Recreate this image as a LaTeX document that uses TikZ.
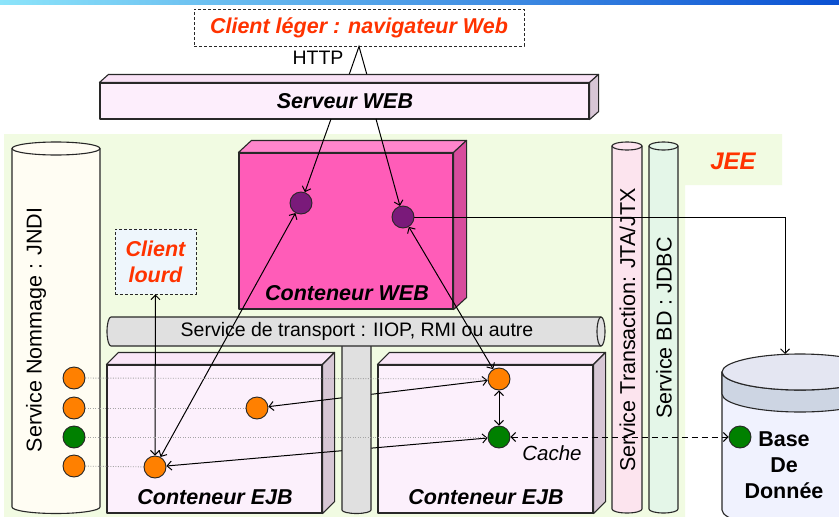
\documentclass[tikz,border=0pt]{standalone}
\usepackage{fontspec}
\setmainfont{Liberation Sans}
\usetikzlibrary{arrows.meta}
\definecolor{jeered}{RGB}{255,51,0}
\definecolor{jeegreen}{RGB}{241,251,226}
\definecolor{barL}{RGB}{140,228,250}
\definecolor{barR}{RGB}{10,80,210}
\definecolor{srvfront}{RGB}{253,238,252}
\definecolor{srvtop}{RGB}{249,226,246}
\definecolor{srvside}{RGB}{216,198,214}
\definecolor{webfront}{RGB}{255,92,184}
\definecolor{webtop}{RGB}{255,133,204}
\definecolor{webside}{RGB}{216,76,156}
\definecolor{ejbfront}{RGB}{252,240,252}
\definecolor{ejbtop}{RGB}{249,230,247}
\definecolor{ejbside}{RGB}{215,199,213}
\definecolor{jndifill}{RGB}{255,253,243}
\definecolor{jtafill}{RGB}{252,228,238}
\definecolor{jdbcfill}{RGB}{228,246,232}
\definecolor{tubefill}{RGB}{224,224,224}
\definecolor{lourdfill}{RGB}{238,246,252}
\definecolor{dbtopc}{RGB}{228,230,242}
\definecolor{dbband}{RGB}{205,213,227}
\definecolor{dbbody}{RGB}{240,242,254}
\definecolor{beanorange}{RGB}{255,128,0}
\definecolor{beangreen}{RGB}{0,128,0}
\definecolor{servletpurple}{RGB}{122,26,122}
\definecolor{dotgray}{RGB}{165,165,165}
\definecolor{edgec}{RGB}{40,40,40}
\pgfdeclarelayer{front}
\pgfsetlayers{main,front}
\begin{document}
\begin{tikzpicture}[x=1pt,y=1pt,yscale=-1,
  >={Straight Barb[length=4.5pt,width=9pt]},
  face/.style={draw=edgec, line width=1.1pt, line join=round},
  frontface/.style={face, rectangle, inner sep=0pt},
  dashbox/.style={draw=edgec, line width=0.9pt, dash pattern=on 3pt off 2pt, rectangle, inner sep=0pt},
  circ/.style={circle, draw=black!85, line width=0.9pt, minimum size=22pt, inner sep=0pt},
  conn/.style={line width=1pt, draw=black},
  oneway/.style={conn, ->},
  twoway/.style={conn, <->},
  dotline/.style={draw=dotgray, line width=0.9pt, dash pattern=on 1pt off 1.5pt},
  dashline/.style={dash pattern=on 6pt off 4pt},
  regular/.style={font=\fontsize{19.5}{23}\selectfont, inner sep=0pt},
  vtext/.style={font=\fontsize{21.5}{26}\selectfont, rotate=90, inner sep=0pt},
  boldit/.style={font=\fontsize{21.5}{26}\selectfont\bfseries\itshape},
  boldup/.style={font=\fontsize{21.5}{26}\selectfont\bfseries, inner sep=0pt},
  itext/.style={font=\fontsize{20.5}{24}\selectfont\itshape, inner sep=0pt}
]
\useasboundingbox (0,0) rectangle (839,517);
\clip (0,0) rectangle (839,517);
\fill[white] (0,0) rectangle (839,517);
\shade[left color=barL, right color=barR] (0,0) rectangle (839,4.5);
\fill[jeegreen] (4,134) -- (782,134) -- (782,185) -- (685,185) -- (685,517) -- (4,517) -- cycle;

% circles (front layer)
\begin{pgfonlayer}{front}
\node[circ, fill=servletpurple] (s1) at (301,203) {};
\node[circ, fill=servletpurple] (s2) at (403,217) {};
\node[circ, fill=beanorange] (j1) at (74,378) {};
\node[circ, fill=beanorange] (j2) at (74,408) {};
\node[circ, fill=beangreen] (j3) at (74,437) {};
\node[circ, fill=beanorange] (j4) at (74,466) {};
\node[circ, fill=beanorange] (eL1) at (257,408) {};
\node[circ, fill=beanorange] (eL2) at (155,467) {};
\node[circ, fill=beanorange] (eR1) at (499,379) {};
\node[circ, fill=beangreen] (eR2) at (499,437) {};
\node[circ, fill=beangreen] (dbg) at (740,437) {};
\end{pgfonlayer}

% client leger + HTTP
\node[dashbox, fill=white, minimum width=330pt, minimum height=37pt, boldit, text=jeered] (leger) at (359,27.5) {Client léger : navigateur Web};
\node[regular] (http) at (318,58) {HTTP};
\coordinate (httpL) at (349,75);
\coordinate (httpR) at (367,75);
\draw[conn] (httpL) -- (leger.south) -- (httpR);

% serveur web
\node[frontface, fill=srvfront, minimum width=489pt, minimum height=36pt] (srv) at (344.5,101) {};
\draw[face, fill=srvtop] (srv.north west) -- ++(9,-8) -- ([shift={(9,-8)}]srv.north east) -- (srv.north east) -- cycle;
\draw[face, fill=srvside] (srv.north east) -- ++(9,-8) -- ([shift={(9,-8)}]srv.south east) -- (srv.south east) -- cycle;
\node[boldit] (srvlabel) at (345,101.5) {Serveur WEB};

% JEE label
\node[boldit, font=\fontsize{24}{28}\selectfont\bfseries\itshape, text=jeered] (jee) at (733,161) {JEE};

% vertical service cylinders
\path[face, fill=jndifill] (12,148.5) -- (12,507) arc[start angle=180,end angle=0,x radius=44,y radius=6.5] -- (100,148.5) -- cycle;
\path[face, fill=jndifill] (56,148.5) ellipse[x radius=44,y radius=6.5];
\node[vtext] (jndi) at (36,330) {Service Nommage : JNDI};

\path[face, fill=jtafill] (612,146) -- (612,509) arc[start angle=180,end angle=0,x radius=15,y radius=4] -- (642,146) -- cycle;
\path[face, fill=jtafill] (627,146) ellipse[x radius=15,y radius=4];
\node[vtext] (jta) at (627.5,330) {Service Transaction: JTA/JTX};

\path[face, fill=jdbcfill] (649,146) -- (649,509) arc[start angle=180,end angle=0,x radius=14.5,y radius=4] -- (678,146) -- cycle;
\path[face, fill=jdbcfill] (663.5,146) ellipse[x radius=14.5,y radius=4];
\node[vtext] (jdbc) at (664,328) {Service BD : JDBC};

% database cylinder
\path[face, fill=dbbody] (722,372) -- (722,510) arc[start angle=180,end angle=0,x radius=78,y radius=18] -- (878,372) -- cycle;
\path[face, fill=dbband] (722,372) arc[start angle=180,end angle=0,x radius=78,y radius=18] -- (878,394) arc[start angle=0,end angle=180,x radius=78,y radius=18] -- cycle;
\path[face, fill=dbtopc] (800,372) ellipse[x radius=78,y radius=18];
\node[boldup, align=center] (dbtext) at (784,465) {Base\\De\\Donnée};

% web container
\node[frontface, fill=webfront, minimum width=214pt, minimum height=156pt] (web) at (346,231) {};
\draw[face, fill=webtop] (web.north west) -- ++(13,-12) -- ([shift={(13,-12)}]web.north east) -- (web.north east) -- cycle;
\draw[face, fill=webside] (web.north east) -- ++(13,-12) -- ([shift={(13,-12)}]web.south east) -- (web.south east) -- cycle;
\node[boldit] (weblabel) at (347,293) {Conteneur WEB};

% client lourd
\node[dashbox, fill=lourdfill, minimum width=81pt, minimum height=65pt, boldit, text=jeered, align=center] (lourd) at (155.5,261.5) {Client\\lourd};

% EJB containers
\node[frontface, fill=ejbfront, minimum width=215pt, minimum height=148pt] (ejbL) at (214.5,439) {};
\draw[face, fill=ejbtop] (ejbL.north west) -- ++(12,-12) -- ([shift={(12,-12)}]ejbL.north east) -- (ejbL.north east) -- cycle;
\draw[face, fill=ejbside] (ejbL.north east) -- ++(12,-12) -- ([shift={(12,-12)}]ejbL.south east) -- (ejbL.south east) -- cycle;
\node[boldit] (ejbLlabel) at (215,497) {Conteneur EJB};

\node[frontface, fill=ejbfront, minimum width=215pt, minimum height=148pt] (ejbR) at (485.5,439) {};
\draw[face, fill=ejbtop] (ejbR.north west) -- ++(12,-12) -- ([shift={(12,-12)}]ejbR.north east) -- (ejbR.north east) -- cycle;
\draw[face, fill=ejbside] (ejbR.north east) -- ++(12,-12) -- ([shift={(12,-12)}]ejbR.south east) -- (ejbR.south east) -- cycle;
\node[boldit] (ejbRlabel) at (486,497) {Conteneur EJB};
\node[itext] (cache) at (552,453) {Cache};

% arrows passing behind the vertical tube
\draw[twoway] (eR1) -- (eL1);
\draw[twoway] (eR2) -- (eL2);

% vertical tube
\path[face, fill=tubefill] (342,340) -- (342,510) arc[start angle=180,end angle=0,x radius=14.5,y radius=3.5] -- (371,340);
% transport tube
\path[face, fill=tubefill] (601,317) -- (111,317) arc[start angle=270,end angle=90,x radius=4,y radius=14.5] -- (601,346) -- cycle;
\path[face, fill=tubefill] (601,331.5) ellipse[x radius=4,y radius=14.5];
\node[regular] (transport) at (357,331) {Service de transport : IIOP, RMI ou autre};

% other connectors
\coordinate (srvA) at (331,119);
\coordinate (srvB) at (376,119);
\coordinate (dbin) at (785,354);
\draw[oneway] (srvA) -- (s1);
\draw[oneway] (srvB) -- (s2);
\draw[twoway] (s1) -- (eL2);
\draw[twoway] (s2) -- (eR1);
\draw[twoway] (lourd) -- (eL2);
\draw[twoway] (eR1) -- (eR2);
\draw[oneway] (s2) -| (dbin);
\draw[twoway, dashline] (eR2) -- (dbg);

% naming links (dotted)
\draw[dotline] (j1) -- (eR1);
\draw[dotline] (j2) -- (eL1);
\draw[dotline] (j3) -- (eR2);
\draw[dotline] (j4) -- (eL2);
\end{tikzpicture}
\end{document}
